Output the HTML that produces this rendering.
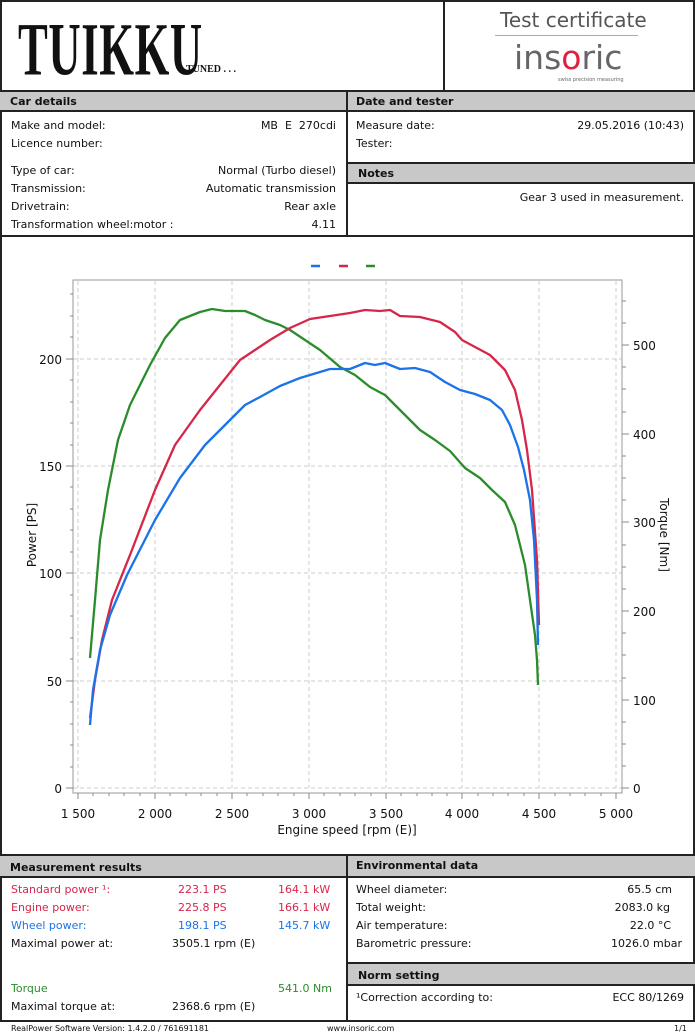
<!DOCTYPE html>
<html><head><meta charset="utf-8"><style>
*{margin:0;padding:0;box-sizing:border-box}
body{width:695px;height:1034px;background:#fff;font-family:"DejaVu Sans","Liberation Sans",sans-serif;font-size:11px;color:#111;position:relative;overflow:hidden}
.a{position:absolute;white-space:nowrap}
.hd{position:absolute;background:#c8c8c8;font-weight:bold;font-size:11px;padding:3px 10px;border-top:2px solid #222;border-bottom:2px solid #222}
</style></head><body>
<div class="a" style="left:0;top:0;width:695px;height:1022px;border:2px solid #222"></div>
<div class="a" style="left:443px;top:0;width:2px;height:90px;background:#222"></div>
<div class="a" style="left:18px;top:6px;font-family:'Liberation Serif',serif;font-size:72px;font-weight:bold;letter-spacing:1px;transform-origin:0 0;transform:scale(0.62,1.05);color:#111">TUIKKU</div>
<div class="a" style="left:186px;top:64px;font-family:'Liberation Serif',serif;font-size:10px;font-weight:bold">TUNED . . .</div>
<div class="a" style="left:500px;top:8px;font-size:20px;color:#555">Test certificate</div>
<div class="a" style="left:495px;top:35px;width:143px;height:1px;background:#aaa"></div>
<div class="a" style="left:514px;top:38px;font-size:33px;color:#666">ins<span style="color:#e0203c">o</span>ric</div>
<div class="a" style="left:558px;top:77px;font-size:5px;color:#666">swiss precision measuring</div>

<div class="hd" style="left:0;top:90px;width:695px;height:22px">Car details</div>
<div class="a" style="left:356px;top:95px;font-weight:bold">Date and tester</div>
<div class="a" style="left:346px;top:90px;width:2px;height:146px;background:#222"></div>
<div class="a" style="left:11px;top:119px">Make and model:</div><div class="a" style="left:200px;top:119px;width:136px;text-align:right">MB&nbsp; E&nbsp; 270cdi</div>
<div class="a" style="left:11px;top:137px">Licence number:</div>
<div class="a" style="left:11px;top:164px">Type of car:</div><div class="a" style="left:150px;top:164px;width:186px;text-align:right">Normal (Turbo diesel)</div>
<div class="a" style="left:11px;top:182px">Transmission:</div><div class="a" style="left:150px;top:182px;width:186px;text-align:right">Automatic transmission</div>
<div class="a" style="left:11px;top:200px">Drivetrain:</div><div class="a" style="left:150px;top:200px;width:186px;text-align:right">Rear axle</div>
<div class="a" style="left:11px;top:218px">Transformation wheel:motor :</div><div class="a" style="left:150px;top:218px;width:186px;text-align:right">4.11</div>
<div class="a" style="left:356px;top:119px">Measure date:</div><div class="a" style="left:480px;top:119px;width:204px;text-align:right">29.05.2016 (10:43)</div>
<div class="a" style="left:356px;top:137px">Tester:</div>
<div class="hd" style="left:348px;top:162px;width:347px;height:22px">Notes</div>
<div class="a" style="left:400px;top:191px;width:284px;text-align:right">Gear 3 used in measurement.</div>
<div class="a" style="left:0;top:235px;width:695px;height:2px;background:#222"></div>

<svg class="a" style="left:0;top:237px" width="695" height="618" viewBox="0 237 695 618">
<g stroke="#ccc" stroke-dasharray="4,3" stroke-width="1">
<line x1="78" y1="281" x2="78" y2="788"/><line x1="155" y1="281" x2="155" y2="788"/><line x1="232" y1="281" x2="232" y2="788"/><line x1="309" y1="281" x2="309" y2="788"/><line x1="386" y1="281" x2="386" y2="788"/><line x1="462" y1="281" x2="462" y2="788"/><line x1="539" y1="281" x2="539" y2="788"/><line x1="616" y1="281" x2="616" y2="788"/>
<line x1="73" y1="359" x2="622" y2="359"/><line x1="73" y1="466" x2="622" y2="466"/><line x1="73" y1="573" x2="622" y2="573"/><line x1="73" y1="681" x2="622" y2="681"/><line x1="73" y1="788" x2="622" y2="788"/>
</g>
<rect x="73" y="280" width="549" height="513" fill="none" stroke="#999"/>
<g stroke="#888">
<path d="M66 788h7M66 681h7M66 573h7M66 466h7M66 359h7M622 788h7M622 700h7M622 611h7M622 522h7M622 434h7M622 345h7"/>
<path d="M70 294h3M70 316h3M70 337h3M70 380h3M70 402h3M70 423h3M70 445h3M70 487h3M70 509h3M70 530h3M70 552h3M70 595h3M70 616h3M70 638h3M70 659h3M70 702h3M70 724h3M70 745h3M70 767h3"/>
<path d="M622 301h4M622 323h4M622 367h4M622 389h4M622 412h4M622 456h4M622 478h4M622 500h4M622 545h4M622 567h4M622 589h4M622 633h4M622 655h4M622 678h4M622 722h4M622 744h4M622 766h4"/>
<path d="M78 793v6M155 793v6M232 793v6M309 793v6M386 793v6M462 793v6M539 793v6M616 793v6"/>
<path d="M93 793v3M109 793v3M124 793v3M140 793v3M170 793v3M186 793v3M201 793v3M217 793v3M247 793v3M263 793v3M278 793v3M294 793v3M324 793v3M340 793v3M355 793v3M371 793v3M401 793v3M417 793v3M432 793v3M447 793v3M478 793v3M493 793v3M508 793v3M524 793v3M555 793v3M570 793v3M585 793v3M601 793v3"/>
</g>
<g font-size="12" fill="#111" font-family="DejaVu Sans,Liberation Sans,sans-serif">
<g text-anchor="end"><text x="62" y="793">0</text><text x="62" y="686">50</text><text x="62" y="578">100</text><text x="62" y="471">150</text><text x="62" y="364">200</text></g>
<text x="633" y="793">0</text><text x="633" y="705">100</text><text x="633" y="616">200</text><text x="633" y="527">300</text><text x="633" y="439">400</text><text x="633" y="350">500</text>
<g text-anchor="middle"><text x="78" y="818">1 500</text><text x="155" y="818">2 000</text><text x="232" y="818">2 500</text><text x="309" y="818">3 000</text><text x="386" y="818">3 500</text><text x="462" y="818">4 000</text><text x="539" y="818">4 500</text><text x="616" y="818">5 000</text>
<text x="347" y="834">Engine speed [rpm (E)]</text></g>
<text transform="translate(36,535) rotate(-90)" text-anchor="middle">Power [PS]</text>
<text transform="translate(660,535) rotate(90)" text-anchor="middle">Torque [Nm]</text>
</g>
<g stroke-width="2.5"><line x1="311" y1="266" x2="320" y2="266" stroke="#1a73e8"/><line x1="339" y1="266" x2="348" y2="266" stroke="#d6264a"/><line x1="366" y1="266" x2="375" y2="266" stroke="#2b8c2b"/></g>
<g fill="none" stroke-width="2.3" stroke-linejoin="round">
<polyline stroke="#2b8c2b" points="90,658 95,600 100,540 108,490 118,440 130,405 150,365 165,338 180,320 200,312 212,309 225,311 245,311 255,315 265,320 280,325 290,330 305,340 320,350 340,367 355,375 370,387 385,395 400,410 420,430 435,440 450,451 465,468 480,478 492,490 505,502 515,525 525,565 530,600 535,635 537,660 538,685"/>
<polyline stroke="#d6264a" points="90,718 95,680 102,640 112,600 130,555 155,490 175,445 200,410 220,385 240,360 255,350 270,340 290,328 310,319 330,316 350,313 365,310 380,311 390,310 400,316 420,317 440,322 455,332 462,340 475,347 490,355 505,370 515,390 522,420 527,450 532,490 537,560 539,625"/>
<polyline stroke="#1a73e8" points="90,725 93,690 100,650 110,615 127,575 155,520 180,478 205,445 230,420 245,405 260,397 280,386 300,378 320,372 330,369 350,369 365,363 375,365 385,363 400,369 415,368 430,372 445,382 460,390 475,394 490,400 502,410 510,425 518,447 524,470 530,500 534,540 537,600 538,645"/>
</g>
</svg>

<div class="hd" style="left:0;top:854px;width:695px;height:24px;padding-top:5px">Measurement results</div>
<div class="a" style="left:356px;top:859px;font-weight:bold">Environmental data</div>
<div class="a" style="left:346px;top:854px;width:2px;height:168px;background:#222"></div>
<div class="a" style="left:11px;top:883px;color:#d6264a">Standard power ¹:</div><div class="a" style="left:178px;top:883px;color:#d6264a">223.1 PS</div><div class="a" style="left:278px;top:883px;color:#d6264a">164.1 kW</div>
<div class="a" style="left:11px;top:901px;color:#d6264a">Engine power:</div><div class="a" style="left:178px;top:901px;color:#d6264a">225.8 PS</div><div class="a" style="left:278px;top:901px;color:#d6264a">166.1 kW</div>
<div class="a" style="left:11px;top:919px;color:#1a73e8">Wheel power:</div><div class="a" style="left:178px;top:919px;color:#1a73e8">198.1 PS</div><div class="a" style="left:278px;top:919px;color:#1a73e8">145.7 kW</div>
<div class="a" style="left:11px;top:937px">Maximal power at:</div><div class="a" style="left:172px;top:937px">3505.1 rpm (E)</div>
<div class="a" style="left:11px;top:982px;color:#2b8c2b">Torque</div><div class="a" style="left:278px;top:982px;color:#2b8c2b">541.0 Nm</div>
<div class="a" style="left:11px;top:1000px">Maximal torque at:</div><div class="a" style="left:172px;top:1000px">2368.6 rpm (E)</div>
<div class="a" style="left:356px;top:883px">Wheel diameter:</div><div class="a" style="left:560px;top:883px;width:112px;text-align:right">65.5 cm</div>
<div class="a" style="left:356px;top:901px">Total weight:</div><div class="a" style="left:560px;top:901px;width:110px;text-align:right">2083.0 kg</div>
<div class="a" style="left:356px;top:919px">Air temperature:</div><div class="a" style="left:560px;top:919px;width:111px;text-align:right">22.0 °C</div>
<div class="a" style="left:356px;top:937px">Barometric pressure:</div><div class="a" style="left:560px;top:937px;width:122px;text-align:right">1026.0 mbar</div>
<div class="hd" style="left:348px;top:962px;width:347px;height:24px;padding-top:5px">Norm setting</div>
<div class="a" style="left:356px;top:991px">¹Correction according to:</div><div class="a" style="left:560px;top:991px;width:124px;text-align:right">ECC 80/1269</div>
<div class="a" style="left:11px;top:1024px;font-size:8px">RealPower Software Version: 1.4.2.0 / 761691181</div>
<div class="a" style="left:327px;top:1024px;font-size:8px">www.insoric.com</div>
<div class="a" style="left:674px;top:1024px;font-size:8px">1/1</div>
</body></html>
